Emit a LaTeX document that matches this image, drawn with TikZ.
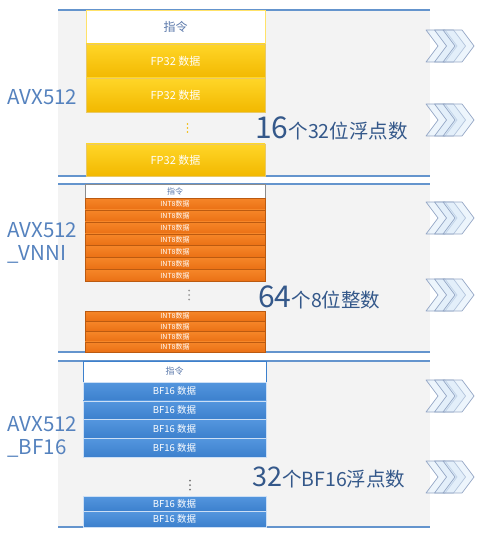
\documentclass[tikz,border=0pt]{standalone}
\usepackage{fontspec}
\setmainfont{Noto Sans CJK SC}
\usetikzlibrary{positioning}
\definecolor{panelgray}{RGB}{243,243,243}
\definecolor{rulecol}{RGB}{100,148,205}
\definecolor{goldtop}{RGB}{255,214,40}
\definecolor{goldbot}{RGB}{242,184,0}
\definecolor{orngtop}{RGB}{246,134,40}
\definecolor{orngbot}{RGB}{234,112,20}
\definecolor{bluetop}{RGB}{84,150,222}
\definecolor{bluebot}{RGB}{60,128,205}
\definecolor{labelblue}{RGB}{85,130,190}
\definecolor{countblue}{RGB}{52,88,138}
\definecolor{insblue}{RGB}{90,120,170}
\definecolor{chevfill}{RGB}{215,232,248}
\definecolor{chevline}{RGB}{150,168,198}

\begin{document}
\begin{tikzpicture}[x=1pt, y=-1pt, font=\fontsize{8}{9}\selectfont]
\tikzset{
  panel/.style={fill=panelgray, draw=none},
  rulebar/.style={draw=rulecol, line width=2pt},
  cell/.style={anchor=north west, inner sep=0pt, outer sep=0pt, text=white},
  inscell/.style={cell, fill=white, text=insblue, draw=#1, line width=0.6pt},
  fpcell/.style={cell, top color=goldtop, bottom color=goldbot, draw=goldbot!90!black!60, line width=0.3pt,
    minimum width=179pt, minimum height=34pt, font=\fontsize{11}{12}\selectfont},
  intcell/.style={cell, top color=orngtop, bottom color=orngbot, draw=orngbot!80!black, line width=0.3pt,
    minimum width=180pt, font=\fontsize{7}{7}\selectfont},
  bfcell/.style={cell, top color=bluetop, bottom color=bluebot, draw=white!70!bluetop, line width=0.4pt,
    minimum width=183pt, font=\fontsize{9.5}{10}\selectfont},
  isa/.style={anchor=west, align=left, text=labelblue, font=\fontsize{20.5}{23}\selectfont},
  count/.style={anchor=west, text=countblue, inner sep=0pt},
  dotcol/.style={fill=#1},
  chevron/.style={draw=chevline, fill=chevfill, fill opacity=0.45, line width=0.7pt, line join=round}
}
\useasboundingbox (0,0) rectangle (496,540);

% grey panels and their rules
\foreach \top/\bot in {10/176, 184/352, 361/527}{
  \fill[panel] (58,\top) rectangle (430,\bot);
  \draw[rulebar] (58,\top) -- (430,\top);
  \draw[rulebar] (58,\bot) -- (430,\bot);
}

% AVX512: FP32
\node[inscell=goldtop!70, minimum width=179pt, minimum height=34pt, font=\fontsize{12}{13}\selectfont] (ins1) at (86,10) {指令};
\node[fpcell] (fp1) at (86,44) {FP32 数据};
\node[fpcell] (fp2) at (86,78) {FP32 数据};
\foreach \d in {-4,0,4} \fill[dotcol=goldbot] (187.5,128+\d) circle (0.9);
\node[fpcell, minimum height=32pt] (fp16) at (86,144) {FP32 数据};
\node[isa] (isa1) at (4,97) {AVX512};
\node[count] (cnt1) at (255,128) {{\fontsize{30}{30}\selectfont 16}{\fontsize{19.5}{20}\selectfont 个32位浮点数}};

% AVX512_VNNI: INT8
\node[inscell=black!45, minimum width=180pt, minimum height=14pt, font=\fontsize{8}{8}\selectfont] (ins2) at (85,184) {指令};
\foreach \i in {1,...,7}{
  \node[intcell, minimum height=11.9pt] (int\i) at (85,{198+(\i-1)*11.9}) {INT8数据};
}
\foreach \d in {-4.5,0,4.5} \fill[dotcol=black!40] (189,295+\d) circle (1);
\foreach \i in {1,...,4}{
  \node[intcell, minimum height=10.25pt] (intb\i) at (85,{311+(\i-1)*10.25}) {INT8数据};
}
\node[isa] (isa2) at (4,243) {AVX512\\\_VNNI};
\node[count] (cnt2) at (258,297) {{\fontsize{30}{30}\selectfont 64}{\fontsize{19.5}{20}\selectfont 个8位整数}};

% AVX512_BF16: BF16
\node[inscell=bluebot, minimum width=183pt, minimum height=21pt, font=\fontsize{9}{9}\selectfont] (ins3) at (83,361) {指令};
\foreach \i in {1,...,4}{
  \node[bfcell, minimum height=18.75pt] (bf\i) at (83,{382+(\i-1)*18.75}) {BF16 数据};
}
\foreach \d in {-4.5,0,4.5} \fill[dotcol=black!55] (190,485+\d) circle (1);
\foreach \i in {1,2}{
  \node[bfcell, minimum height=15.5pt] (bfb\i) at (83,{496+(\i-1)*15.5}) {BF16 数据};
}
\node[isa] (isa3) at (4,437) {AVX512\\\_BF16};
\node[count] (cnt3) at (252,478) {{\fontsize{27}{30}\selectfont 32}{\fontsize{19.5}{20}\selectfont 个BF16浮点数}};

% chevrons on the right
\foreach \yc in {46, 120, 218, 295, 396, 477}{
  \foreach \dx in {0, 8.5, 17}{
    \draw[chevron] (426+\dx,\yc-16) -- ++(19,0) -- ++(12,16) -- ++(-12,16) -- ++(-19,0) -- ++(12,-16) -- cycle;
  }
}
\end{tikzpicture}
\end{document}
